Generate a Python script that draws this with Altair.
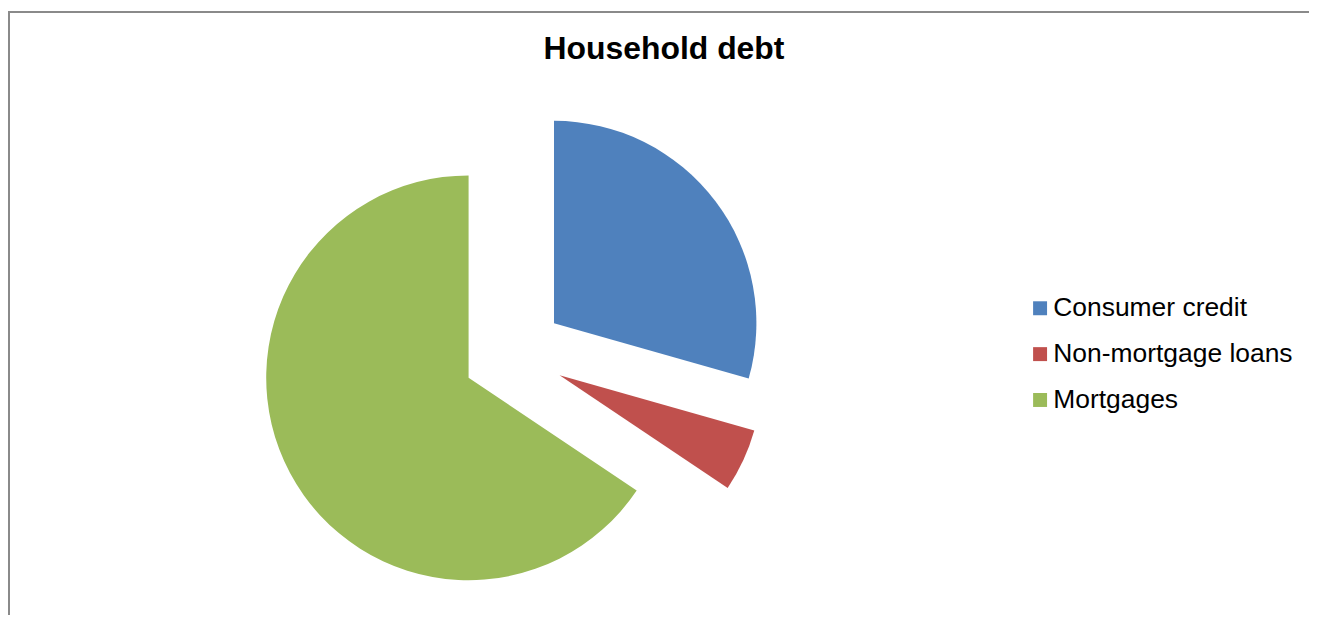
import altair as alt
import pandas as pd

# ---- data ----
title_text = "Household debt"
categories = ["Consumer credit", "Non-mortgage loans", "Mortgages"]
values = [29.4, 5.0, 65.6]
colors = ["#4F81BD", "#C0504D", "#9BBB59"]

W, H = 1305, 608
CX, CY = 507, 346      # common pie centre (px, plot coords)
EXPLODE = 51           # explosion distance (px)
RADIUS = 203

df = pd.DataFrame({"category": categories, "value": values})

pie = (
    alt.Chart(df)
    .transform_window(idx="row_number()")
    .transform_joinaggregate(total="sum(value)")
    .transform_window(cum="sum(value)", sort=[alt.SortField("idx")], frame=[None, 0])
    .transform_calculate(
        start="(datum.cum - datum.value) / datum.total * 2 * PI",
        end="datum.cum / datum.total * 2 * PI",
    )
    .transform_calculate(mid="(datum.start + datum.end) / 2")
    .transform_calculate(
        px=f"{CX} + {EXPLODE} * sin(datum.mid)",
        py=f"{CY} - {EXPLODE} * cos(datum.mid)",
    )
    .mark_arc(radius=RADIUS, strokeWidth=0)
    .encode(
        theta=alt.Theta("start:Q", scale=None, stack=False),
        theta2="end:Q",
        x=alt.X("px:Q", scale=None),
        y=alt.Y("py:Q", scale=None),
        color=alt.Color(
            "category:N",
            scale=alt.Scale(domain=categories, range=colors),
            sort=categories,
            legend=alt.Legend(
                orient="none",
                legendX=1022,
                legendY=287,
                title=None,
                symbolType="square",
                symbolSize=196,
                symbolStrokeWidth=0,
                labelFont="Liberation Sans",
                labelFontSize=26.5,
                labelColor="black",
                labelOffset=0,
                labelLimit=600,
                rowPadding=19,
                padding=0,
            ),
        ),
    )
)

title = (
    alt.Chart(pd.DataFrame({"t": [title_text]}))
    .mark_text(
        font="Liberation Sans",
        fontSize=32,
        fontWeight="bold",
        color="black",
        align="center",
        baseline="alphabetic",
    )
    .encode(text="t:N", x=alt.value(658), y=alt.value(50))
)

frame_df = pd.DataFrame({"a": [0]})
left_border = (
    alt.Chart(frame_df)
    .mark_rule(color="#8A8A8A", strokeWidth=2)
    .encode(x=alt.value(1), y=alt.value(2), y2=alt.value(H))
)
top_border = (
    alt.Chart(frame_df)
    .mark_rule(color="#8A8A8A", strokeWidth=2)
    .encode(x=alt.value(0), x2=alt.value(W), y=alt.value(3))
)

chart = (
    alt.layer(left_border, top_border, pie, title)
    .properties(
        width=W,
        height=H,
        autosize=alt.AutoSizeParams(type="none"),
        padding={"left": 0, "top": 0, "right": 0, "bottom": 0},
        background="white",
    )
    .configure_view(strokeWidth=0)
)

chart.save("out.html", embed_options={"renderer": "svg", "actions": False})
